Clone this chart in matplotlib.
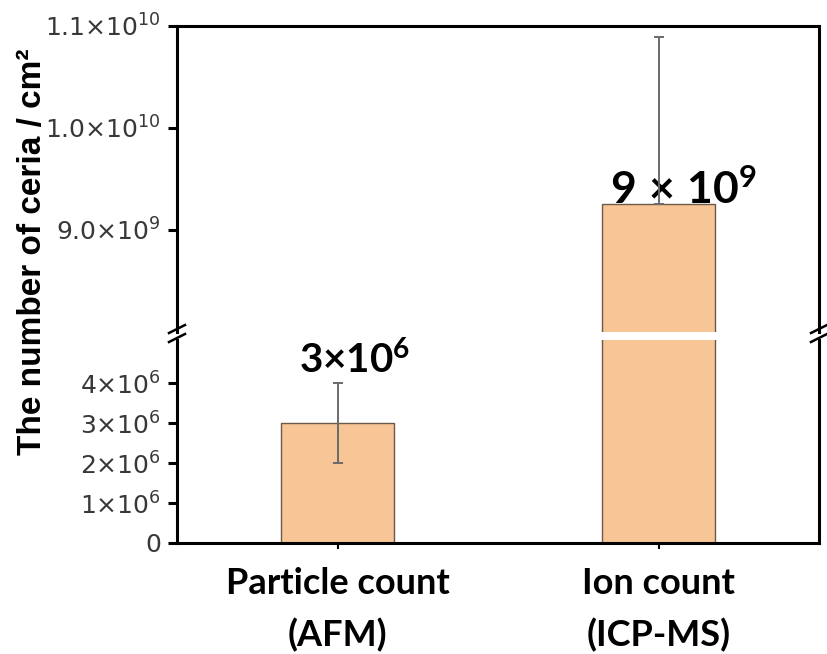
import matplotlib
matplotlib.use("Agg")
import matplotlib.pyplot as plt
from matplotlib.lines import Line2D

plt.rcParams["mathtext.fontset"] = "custom"
plt.rcParams["mathtext.rm"] = "Liberation Sans"
plt.rcParams["mathtext.it"] = "Liberation Sans:italic"
plt.rcParams["mathtext.bf"] = "Lato:bold"

# ---- data ----
categories = ["Particle count\n(AFM)", "Ion count\n(ICP-MS)"]
values = [3.0e6, 9.25e9]
err_low = [1.0e6, 0.0]
err_high = [1.0e6, 1.64e9]
bar_labels = [r"$\mathbf{3×10^{6}}$", r"$\mathbf{9\ ×\ 10^{9}}$"]
top_ticks = [9.0e9, 1.0e10, 1.1e10]
top_tick_labels = [r"$\mathregular{9.0×10^{9}}$", r"$\mathregular{1.0×10^{10}}$",
                   r"$\mathregular{1.1×10^{10}}$"]
bottom_ticks = [0, 1e6, 2e6, 3e6, 4e6]
bottom_tick_labels = ["0", r"$\mathregular{1×10^{6}}$", r"$\mathregular{2×10^{6}}$",
                      r"$\mathregular{3×10^{6}}$", r"$\mathregular{4×10^{6}}$"]
ylabel = "The number of ceria / cm²"

W, H = 827, 654
fig = plt.figure(figsize=(W / 100, H / 100), dpi=100)
L, R = 177, 819
top_t, top_b = 26, 332
bot_t, bot_b = 340, 543
ax_top = fig.add_axes([L / W, 1 - top_b / H, (R - L) / W, (top_b - top_t) / H])
ax_bot = fig.add_axes([L / W, 1 - bot_b / H, (R - L) / W, (bot_b - bot_t) / H])

bar_color = "#F8C696"
edge_color = "#6b5a4a"
err_color = "#6a6a6a"
lw_spine = 2.2
tick_color = "#383838"
x = list(range(len(categories)))

for ax in (ax_top, ax_bot):
    ax.bar(x, values, width=0.35, color=bar_color, edgecolor=edge_color,
           linewidth=1.0, zorder=2)
    ax.errorbar(x, values, yerr=[err_low, err_high], fmt="none", ecolor=err_color,
                elinewidth=1.4, capsize=3.5, capthick=1.4, zorder=5)
    ax.set_xlim(-0.5, 1.5)
    for s in ax.spines.values():
        s.set_linewidth(lw_spine)
    ax.tick_params(axis="y", direction="out", length=6.5, width=lw_spine,
                   labelsize=18, labelcolor=tick_color, pad=5)

ax_top.set_ylim(8.0e9, 1.1e10)
ax_bot.set_ylim(0, 5.08e6)
ax_top.spines["bottom"].set_visible(False)
ax_bot.spines["top"].set_visible(False)
ax_top.set_xticks([])
ax_top.set_yticks(top_ticks)
ax_top.set_yticklabels(top_tick_labels)
ax_bot.set_yticks(bottom_ticks)
ax_bot.set_yticklabels(bottom_tick_labels)
ax_bot.set_xticks(x)
ax_bot.set_xticklabels(categories, fontfamily="Lato", fontweight="bold",
                       fontsize=26, linespacing=1.65)
ax_bot.tick_params(axis="x", direction="out", length=4, width=1.5, pad=13)

ax_bot.text(x[0] + 0.053, 4.25e6, bar_labels[0], ha="center", va="baseline",
            fontsize=29, zorder=4)
ax_top.text(x[1] + 0.078, values[1], bar_labels[1], ha="center", va="baseline",
            fontsize=32, zorder=4)

fig.text(33 / W, 1 - 252 / H, ylabel, rotation=90, ha="center", va="center",
         fontfamily="Liberation Sans", fontweight="bold", fontsize=24)

for xp in (L, R):
    for yp in (329, 338):
        fig.add_artist(Line2D([(xp - 8) / W, (xp + 8) / W],
                              [1 - (yp + 4) / H, 1 - (yp - 4) / H],
                              color="black", lw=1.8))

fig.savefig("out.png", dpi=100)
